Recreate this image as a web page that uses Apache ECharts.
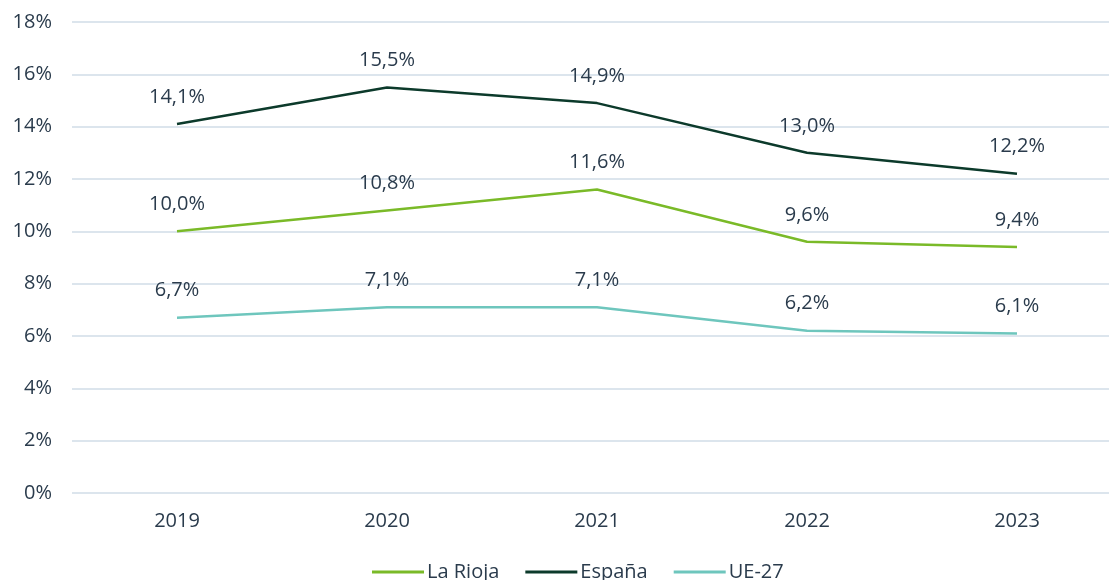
<!DOCTYPE html>
<html><head><meta charset="utf-8">
<script src="https://cdn.jsdelivr.net/npm/echarts@6/dist/echarts.min.js"></script>
<style>html,body{margin:0;padding:0;background:#fff}#c{width:1109px;height:580px}</style>
</head><body><div id="c"></div>
<script>
const categories = ['2019','2020','2021','2022','2023'];
const laRioja = [10.0, 10.8, 11.6, 9.6, 9.4];
const espana = [14.1, 15.5, 14.9, 13.0, 12.2];
const ue27 = [6.7, 7.1, 7.1, 6.2, 6.1];
const seriesNames = ['La Rioja', 'España', 'UE-27'];

const txt = '#2a3b4c';
const font = 'Open Sans';
const fs = 20;
function fmt(v){ return v.toFixed(1).replace('.', ',') + '%'; }
function mk(name, data, color){
  return {
    name, type:'line', data, symbol:'circle', symbolSize:0, showSymbol:true,
    lineStyle:{color, width:2.5}, itemStyle:{color},
    label:{show:true, position:'top', distance:17, color:txt, fontSize:fs, fontFamily:font,
      formatter:p=>fmt(p.value)},
    emphasis:{disabled:true}, animation:false
  };
}
const chart = echarts.init(document.getElementById('c'), null, {renderer:'canvas'});
chart.setOption({
  animation:false,
  grid:{left:72, top:22, width:1050, bottom:87, outerBoundsMode:'none', containLabel:false},
  legend:{top:557, left:367, itemWidth:52, itemHeight:3, itemGap:26, icon:'rect',
    textStyle:{color:txt, fontSize:fs, fontFamily:font, padding:[0,0,0,-2]}, data:seriesNames},
  xAxis:{type:'category', data:categories, boundaryGap:true,
    axisLine:{show:false}, axisTick:{show:false},
    axisLabel:{color:txt, fontSize:fs, fontFamily:font, margin:18}},
  yAxis:{type:'value', min:0, max:18, interval:2,
    axisLabel:{color:txt, fontSize:fs, fontFamily:font, margin:20, formatter:v=>v+'%'},
    splitLine:{lineStyle:{color:'#dce5ed', width:2}},
    axisLine:{show:false}, axisTick:{show:false}},
  series:[mk(seriesNames[0], laRioja, '#7aba28'), mk(seriesNames[1], espana, '#0c3a2b'), mk(seriesNames[2], ue27, '#6ec6bd')]
});
</script></body></html>
